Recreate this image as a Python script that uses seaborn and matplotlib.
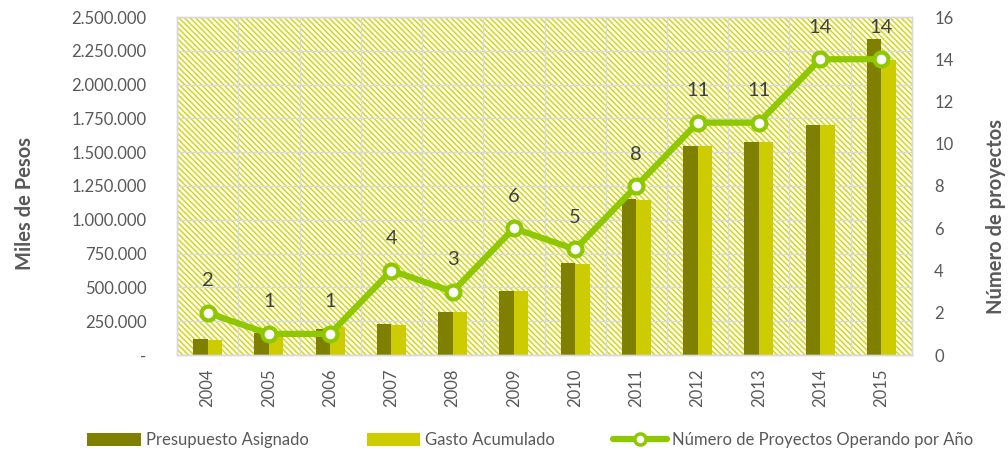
import numpy as np
import pandas as pd
import matplotlib
matplotlib.use("Agg")
import matplotlib.pyplot as plt
from matplotlib.patches import Rectangle, Patch
from matplotlib.lines import Line2D
from matplotlib.ticker import FuncFormatter, FixedLocator
import seaborn as sns

years = ["2004", "2005", "2006", "2007", "2008", "2009", "2010", "2011", "2012", "2013", "2014", "2015"]
presupuesto = [115000, 160000, 192000, 229000, 320000, 476000, 678000, 1152000, 1546000, 1575000, 1700000, 2337000]
gasto = [112000, 150000, 207000, 222000, 318000, 474000, 676000, 1148000, 1546000, 1575000, 1702000, 2180000]
proyectos = [2, 1, 1, 4, 3, 6, 5, 8, 11, 11, 14, 14]
series_names = ["Presupuesto Asignado", "Gasto Acumulado"]
line_name = "Número de Proyectos Operando por Año"

sns.set_theme(style="white")
plt.rcParams["font.family"] = ["Lato", "DejaVu Sans"]
plt.rcParams["hatch.linewidth"] = 1.1

dark = "#7F7F00"
light = "#CCCC00"
green = "#8DC800"
grid_c = "#D9D9D9"
txt = "#595959"

df = pd.DataFrame({
    "year": years * 2,
    "value": presupuesto + gasto,
    "serie": [series_names[0]] * len(years) + [series_names[1]] * len(years),
})
dl = pd.DataFrame({"year": years, "n": proyectos})

fig = plt.figure(figsize=(10.08, 4.55), dpi=100)
ax = fig.add_axes([177 / 1008, 1 - 355 / 455, (912 - 177) / 1008, (355 - 17) / 455])

bg = Rectangle((0, 0), 1, 1, transform=ax.transAxes, facecolor="white",
               edgecolor="#D6D610", hatch="\\" * 6, linewidth=0, zorder=0.1)
ax.add_patch(bg)
ax.set_axisbelow(True)

sns.barplot(data=df, x="year", y="value", hue="serie", hue_order=series_names,
            palette=[dark, light], width=0.47, saturation=1, ax=ax, legend=False,
            linewidth=0)
ax.set_xlim(-0.5, len(years) - 0.5)
ax.set_ylim(0, 2500000)
ax.yaxis.set_major_locator(FixedLocator(np.arange(0, 2500001, 250000)))

def fmt(v, pos):
    if v == 0:
        return "-"
    return f"{int(v):,}".replace(",", ".")
ax.yaxis.set_major_formatter(FuncFormatter(fmt))
ax.grid(axis="y", color=grid_c, linewidth=1)
ax.xaxis.set_minor_locator(FixedLocator(np.arange(-0.5, len(years), 1.0)))
ax.grid(axis="x", which="minor", color=grid_c, linewidth=1)
ax.tick_params(axis="x", which="minor", length=7, color=grid_c, width=1)
ax.tick_params(axis="x", which="major", length=0, labelsize=12, labelcolor=txt, pad=10, labelrotation=90)
ax.tick_params(axis="y", length=0, labelsize=12, labelcolor=txt, pad=22)
ax.set_xlabel("")
ax.set_ylabel("")
for s in ax.spines.values():
    s.set_color(grid_c)
    s.set_linewidth(1)

ax2 = ax.twinx()
sns.pointplot(data=dl, x="year", y="n", color=green, ax=ax2, markers="o",
              markersize=10, markerfacecolor="white", markeredgecolor=green,
              markeredgewidth=3, linewidth=4.5)
ax2.set_xlim(-0.5, len(years) - 0.5)
ax2.set_ylim(0, 16)
ax2.yaxis.set_major_locator(FixedLocator(np.arange(0, 17, 2)))
ax2.tick_params(axis="y", length=0, labelsize=12, labelcolor=txt, pad=16)
ax2.set_ylabel("")
ax2.set_xlabel("")
for s in ax2.spines.values():
    s.set_color(grid_c)
    s.set_linewidth(1)
for i, n in enumerate(proyectos):
    ax2.annotate(str(n), (i, n), xytext=(0, 23), textcoords="offset points",
                 ha="center", va="center", fontsize=14.5, color="#404040")

fig.text(25 / 1008, 1 - 203 / 455, "Miles de Pesos", rotation=90, ha="center", va="center",
         fontsize=14.5, fontweight="bold", color=txt)
fig.text(996 / 1008, 1 - 216 / 455, "Número de proyectos", rotation=90, ha="center", va="center",
         fontsize=14.5, fontweight="bold", color=txt)

handles = [Patch(facecolor=dark, edgecolor="none"),
           Patch(facecolor=light, edgecolor="none"),
           Line2D([0], [0], color=green, linewidth=4.5, marker="o", markersize=8,
                  markerfacecolor="white", markeredgecolor=green, markeredgewidth=2.5)]
fig.legend(handles, series_names + [line_name], loc="center",
           bbox_to_anchor=(530 / 1008, 1 - 440 / 455), ncol=3, frameon=False,
           fontsize=12, labelcolor=txt, handlelength=3.2, handleheight=0.8,
           handletextpad=0.3, columnspacing=3.5, numpoints=1)

fig.savefig("out.png", dpi=100)
